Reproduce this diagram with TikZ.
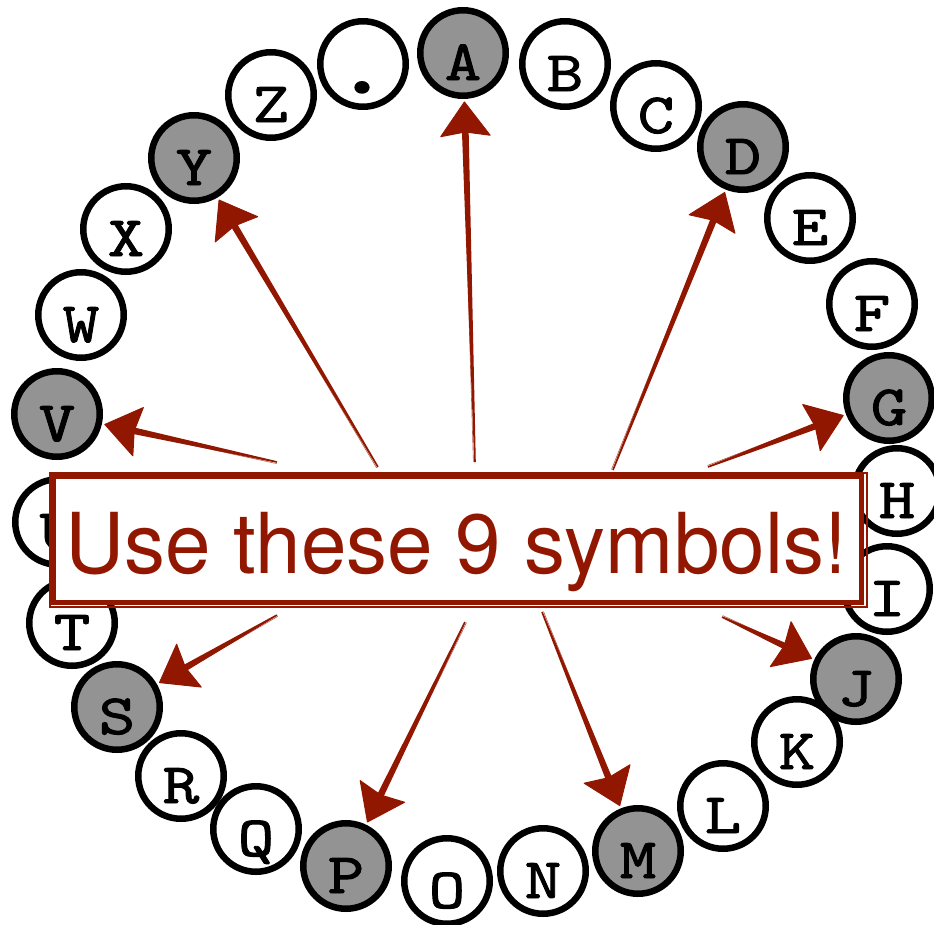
\documentclass[tikz,border=0pt]{standalone}
\usepackage{fontspec}
\usetikzlibrary{calc}
\newfontfamily\letterfont[FakeStretch=1.22, FakeBold=1.6]{lmmono10-regular.otf}
\newfontfamily\boxfont[FakeStretch=0.974]{TeX Gyre Heros}
\definecolor{skred}{RGB}{146,23,0}
\definecolor{ringgray}{RGB}{147,147,147}
\newcommand\skarrow[2]{%
  \coordinate (tip#2) at ($(#2)!49pt!(#1)$);
  \coordinate (base#2) at ($(tip#2)!24pt!(#1)$);
  \fill[skred] ($(#1)!0.8pt!90:(base#2)$) -- ($(base#2)!3.4pt!-90:(#1)$)
     -- ($(base#2)!3.4pt!90:(#1)$) -- ($(#1)!0.8pt!-90:(base#2)$) -- cycle;
  \draw[skred, line width=0.6pt, opacity=0.7] ($(#1)!1.6pt!90:(base#2)$) -- ($(base#2)!2pt!-90:(#1)$);
  \filldraw[skred, line width=1pt, line join=round] (tip#2) -- ($(tip#2)!42pt!36:(#1)$)
     -- ($(tip#2)!30pt!(#1)$) -- ($(tip#2)!42pt!-36:(#1)$) -- cycle;
}
\begin{document}
\begin{tikzpicture}[x=1pt,y=-1pt,
  ring/.style={circle, draw=black, line width=6.5pt, minimum size=85.5pt, inner sep=0pt, fill=white},
  hot/.style={ring, fill=ringgray},
  letter/.style={anchor=base, inner sep=0pt, font=\letterfont\fontsize{57}{57}\selectfont},
  bigdot/.style={letter, font=\letterfont\fontsize{90}{90}\selectfont},
  boxstyle/.style={draw=skred, fill=white, line width=5pt, minimum width=808pt, minimum height=126pt, inner sep=0pt},
  msgstyle/.style={anchor=base, inner sep=0pt, text=skred, font=\boxfont\fontsize{84}{84}\selectfont}]
\useasboundingbox (0,0) rectangle (934,924);
\foreach \n/\x/\y/\s/\t in {A/463/53/hot/A, B/565/64/ring/B, C/656/106/ring/C,
  D/743/147/hot/D, E/810/218/ring/E, F/872/304/ring/F, G/889/398/hot/G,
  H/897/491/ring/H, I/887/589/ring/I, J/856/679/hot/J, K/797/742/ring/K,
  L/723/806/ring/L, M/638/851/hot/M, N/543/871/ring/N, O/447/881/ring/O,
  P/346/866/hot/P, Q/256/829/ring/Q, R/181/776/ring/R, S/117/707/hot/S,
  T/72/623/ring/T, U/58/522/ring/U, V/57/414/hot/V, W/81/315/ring/W,
  X/126/229/ring/X, Y/194/158/hot/Y, Z/271/95/ring/Z}
{
  \node[\s] (\n) at (\x,\y) {};
  \node[letter] (l\n) at (\x,\y+27) {\t};
}
\node[ring] (dot) at (363,64) {};
\node[bigdot] (ldot) at (362,93) {.};
\coordinate (tA) at (475,462);
\coordinate (tD) at (613,470);
\coordinate (tG) at (708,467);
\coordinate (tJ) at (722,617);
\coordinate (tM) at (542,612);
\coordinate (tP) at (465,622);
\coordinate (tS) at (277,615);
\coordinate (tV) at (277,462);
\coordinate (tY) at (378,467);
\skarrow{tA}{A}
\skarrow{tD}{D}
\skarrow{tG}{G}
\skarrow{tJ}{J}
\skarrow{tM}{M}
\skarrow{tP}{P}
\skarrow{tS}{S}
\skarrow{tV}{V}
\skarrow{tY}{Y}
\node[boxstyle] (box) at (457.5,539.5) {};
\draw[skred, line width=1.2pt] ($(box.north west)+(-1,-1)$) rectangle ($(box.south east)+(3,2)$);
\node[msgstyle] (msg) at (456,573) {Use these 9 symbols!};
\end{tikzpicture}
\end{document}
